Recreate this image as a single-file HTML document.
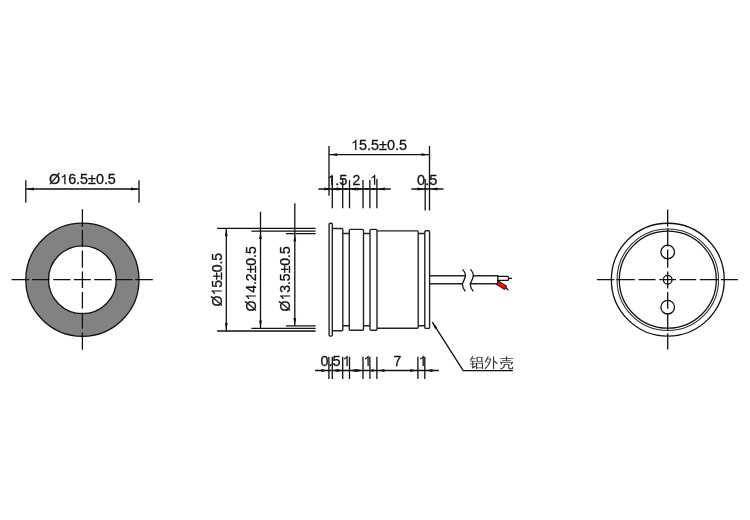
<!DOCTYPE html>
<html>
<head>
<meta charset="utf-8">
<title>Drawing</title>
<style>
html,body{margin:0;padding:0;background:#fff;}
body{width:750px;height:520px;overflow:hidden;font-family:"Liberation Sans",sans-serif;}
svg{display:block;opacity:0.999;will-change:transform;}
text{font-family:"Liberation Sans",sans-serif;font-size:14px;fill:#111;stroke:#111;stroke-width:0.3;}
.l{stroke:#111;stroke-width:1.3;fill:none;}
.t2{stroke:#2a2a2a;stroke-width:1.05;fill:none;}
.b{stroke:#222;stroke-width:1.4;fill:none;stroke-linejoin:round;stroke-linecap:round;}
.a{fill:#111;stroke:none;}
.cv{stroke:#2a2a2a;stroke-width:1.15;fill:none;stroke-linecap:round;stroke-linejoin:round;}
.ch{stroke:#3a3a3a;stroke-width:0.85;fill:none;stroke-linecap:round;stroke-linejoin:round;}
</style>
</head>
<body>
<svg width="750" height="520" viewBox="0 0 750 520">
<defs>
  <g id="one"><path transform="scale(0.006836,-0.006836)" fill="#111" stroke="#111" stroke-width="8" d="M763 0H583V1147Q518 1085 412.5 1023T223 930V1104Q374 1175 487 1276T647 1472H763Z"/></g>
</defs>
<rect width="750" height="520" fill="#fff"/>

<!-- ================= LEFT VIEW (ring) ================= -->
<g id="left">
  <path d="M82.4,223.1 a56.6,56.6 0 1 0 0.01,0 Z M82.4,245.79999999999998 a33.9,33.9 0 1 1 -0.01,0 Z" fill="#828282" fill-rule="evenodd" stroke="none"/>
  <circle cx="82.4" cy="279.7" r="56.6" class="l"/>
  <circle cx="82.4" cy="279.7" r="33.9" class="l"/>
  <path class="l" d="M82.4,209.3V226.7 M82.4,229.8V247 M82.4,250.4V267.7 M82.4,271.5V288 M82.4,292V308.5 M82.4,312.5V328.8 M82.4,332.6V349.7"/>
  <path class="l" d="M11.6,279.7H29.3 M32,279.7H49.6 M53.3,279.7H70.5 M73.7,279.7H90.8 M94.2,279.7H111.5 M115,279.7H132.6 M135.1,279.7H152.8"/>
  <path class="l" d="M25.8,180.2V202.8 M139,180.2V202.8 M25.8,189H139"/>
  <path class="a" d="M26.6,189l7.2,-1.4v2.8z M138.2,189l-7.2,-1.4v2.8z"/>
  <g transform="translate(49.0,184.3) scale(1.025,1)"><text x="0.00" y="0">Ø</text><use href="#one" x="10.89" y="0"/><text x="18.68" y="0">6.5±0.5</text></g>
</g>

<!-- ================= MIDDLE VIEW (side) ================= -->
<g id="mid">
  <path class="b" d="
    M329.1,224.2 Q329.1,223.2 330.1,223.2 H331.3 Q332.3,223.2 332.3,224.2 V335.1 Q332.3,336.1 331.3,336.1 H330.1 Q329.1,336.1 329.1,335.1 Z
    M332.3,228.5 H341.8 Q342.8,228.5 342.8,229.5 V329.8 Q342.8,330.8 341.8,330.8 H332.3
    M342.8,233.5 H349.3 M342.8,325.8 H349.3
    M349.3,230.4 Q349.3,229.4 350.3,229.4 H362.5 Q363.5,229.4 363.5,230.4 V329.3 Q363.5,330.3 362.5,330.3 H350.3 Q349.3,330.3 349.3,329.3 Z
    M363.5,233.5 H370 M363.5,325.8 H370
    M370,230.4 Q370,229.4 371,229.4 H376 Q377,229.4 377,230.4 V329.3 Q377,330.3 376,330.3 H371 Q370,330.3 370,329.3 Z
    M377,230.9 H417.2 Q418.2,230.9 418.2,231.9 V327.2 Q418.2,328.2 417.2,328.2 H377
    M418.2,233.5 H424.8 M418.2,325.8 H424.8
    M424.8,231.7 Q424.8,230.7 425.8,230.7 H428.6 Q429.6,230.7 429.6,231.7 V327.4 Q429.6,328.4 428.6,328.4 H425.8 Q424.8,328.4 424.8,327.4 Z
  "/>
  <!-- cable -->
  <path class="b" d="M429.6,275.8 H465.2 M429.6,283.8 H462.6 M473.4,275.8 H497.8 M470.8,283.8 H497.8 M497.8,275.8 V283.8"/>
  <path class="l" d="M462.5,269.4 Q466.2,273.5 465.3,276.8 Q463.8,281 462.3,284 Q462.4,288.2 465.4,291.3"/>
  <path class="l" d="M470.4,269.4 Q474.1,273.5 473.2,276.8 Q471.7,281 470.2,284 Q470.3,288.2 473.3,291.3"/>
  <path class="l" d="M497.8,276.3 H507.5 Q508.5,276.3 508.5,277.3 V279.4 Q508.5,280.4 507.5,280.4 H497.8 M508.5,278.3 H512"/>
  <path d="M498.6,281.1 L506.8,286.2 L504.5,289.6 L496.6,284.4 Z" fill="#f00" stroke="#111" stroke-width="1"/>
  <path class="l" d="M505.8,287.7 L508.5,290.4"/>

  <!-- top dimension 15.5 -->
  <path class="l" d="M329,145.9V195.7 M429.5,145.9V210.6 M329,154.6H429.5"/>
  <path class="a" d="M329.8,154.6l7.2,-1.4v2.8z M428.7,154.6l-7.2,-1.4v2.8z"/>
  <g transform="translate(351.0,149.9) scale(1.03,1)"><use href="#one" x="0.00" y="0"/><text x="7.79" y="0">5.5±0.5</text></g>

  <!-- second row of dims on top -->
  <path class="l" d="M318.3,189H390.8 M411.4,189H443.5"/>
  <path class="l" d="M332.3,176V208.3 M342.7,178.5V208.3 M349.5,180V208.3 M363,180V208.3 M369.9,180V208.3 M376.9,179V208.3 M425.2,179V210.6"/>
  <path class="a" d="M331.6,189l-7.2,-1.4v2.8z M342.7,189l-5.2,-1.4v2.8z M332.3,189l5.2,-1.4v2.8z M349.5,189l6.5,-1.4v2.8z M363,189l-6.5,-1.4v2.8z M342.7,189l3.4,-1.1v2.2z M349.5,189l-3.4,-1.1v2.2z M363,189l3.4,-1.1v2.2z M369.9,189l-3.4,-1.1v2.2z M369.9,189l3.5,-1.1v2.2z M376.9,189l-3.5,-1.1v2.2z M377.6,189l7.2,-1.4v2.8z M424.5,189l-7.2,-1.4v2.8z M430.2,189l7.2,-1.4v2.8z"/>
  <g transform="translate(327.1,184.8) scale(1.04,1)"><use href="#one" x="0.00" y="0"/><text x="7.79" y="0">.5</text></g>
  <g transform="translate(352.5,184.8)"><text x="0.00" y="0">2</text></g>
  <g transform="translate(370,184.8)"><use href="#one" x="0.00" y="0"/></g>
  <g transform="translate(417.1,184.8) scale(1.04,1)"><text x="0.00" y="0">0.5</text></g>

  <!-- left vertical dims -->
  <path class="l" d="M217.1,228.3H315.6 M251.4,231.2H315.6 M285.9,233.6H315.6 M217.1,331H315.6 M251.4,328.4H315.6 M285.9,325.9H315.6"/>
  <path class="l" d="M226.3,228.3V331 M260.5,211.8V328.4 M294.8,203.3V325.9"/>
  <path class="a" d="M226.3,229l-1.4,7.2h2.8z M226.3,330.3l-1.4,-7.2h2.8z M260.5,231.9l-1.4,7.2h2.8z M260.5,327.7l-1.4,-7.2h2.8z M294.8,234.3l-1.4,7.2h2.8z M294.8,325.2l-1.4,-7.2h2.8z"/>
  <g transform="translate(221.6,306.5) rotate(-90)"><text x="0.00" y="0">Ø</text><use href="#one" x="10.89" y="0"/><text x="18.68" y="0">5±0.5</text></g>
  <g transform="translate(255.8,311.5) rotate(-90)"><text x="0.00" y="0">Ø</text><use href="#one" x="10.89" y="0"/><text x="18.68" y="0">4.2±0.5</text></g>
  <g transform="translate(290.1,311.5) rotate(-90)"><text x="0.00" y="0">Ø</text><use href="#one" x="10.89" y="0"/><text x="18.68" y="0">3.5±0.5</text></g>

  <!-- bottom dims -->
  <path class="l" d="M315,370.5H438.8"/>
  <path class="l" d="M328.9,356.7V378.9 M332.3,356.7V378.9 M342.7,356.7V378.9 M349.5,356.7V378.9 M363,356.7V378.9 M369.9,356.7V378.9 M376.9,356.7V378.9 M417.9,356.7V378.9 M424.8,356.7V378.9"/>
  <path class="a" d="M328.2,370.5l-7,-1.4v2.8z M332.3,370.5l5.2,-1.4v2.8z M342.7,370.5l-5.2,-1.4v2.8z M349.5,370.5l6.7,-1.4v2.8z M363,370.5l-6.7,-1.4v2.8z M376.2,370.5l-4.5,-1.4v2.8z M377.6,370.5l7,-1.4v2.8z M417.2,370.5l-7,-1.4v2.8z M425.5,370.5l7,-1.4v2.8z"/>
  <g transform="translate(320.6,365.9) scale(1.03,1)"><text x="0.00" y="0">0.5</text></g>
  <g transform="translate(342.5,365.9)"><use href="#one" x="0.00" y="0"/></g>
  <g transform="translate(363.5,365.9)"><use href="#one" x="0.00" y="0"/></g>
  <g transform="translate(393.4,365.9)"><text x="0.00" y="0">7</text></g>
  <g transform="translate(418.6,365.9)"><use href="#one" x="0.00" y="0"/></g>

  <!-- leader -->
  <path class="l" d="M432.3,322.1 L463.2,370.6 H512.8"/>
  <path class="a" d="M432.3,322.1 l2.7,6.8 l2.2,-1.4 z"/>
  <!-- CJK label drawn as strokes: 铝 外 壳 -->
  <g transform="translate(469.9,356.5) scale(0.95,0.9)">
    <path class="cv" d="M2.8,0.3 L0.6,4.2 M3,5.4 V12.8 L5.6,10.8 M7.6,1 V5.6 M12.6,1 V5.6 M7,7.6 V13.4 M13.2,7.6 V13.4"/>
    <path class="ch" d="M2.2,2.4 H5.6 M1.2,5.4 H5.2 M0.4,8.2 H5.8 M7.6,1 H12.6 M7.6,5.4 H12.6 M7,7.6 H13.2 M7,12.6 H13.2"/>
  </g>
  <g transform="translate(484.7,356.5) scale(0.95,0.9)">
    <path class="cv" d="M3.6,0.2 L0.6,6 M6.2,2.8 Q5.4,9 0.4,13.6 M9.4,0.2 V13.3 M9.6,5 L13,7.6"/>
    <path class="ch" d="M2.8,2.8 H6.2 M2.6,5.6 L4.6,7.8"/>
  </g>
  <g transform="translate(499.9,356.5) scale(0.95,0.9)">
    <path class="cv" d="M7,0.2 V4.6 M1,6 L1.6,8.4 M13.2,6.6 L12,8.6 M4.6,8.8 V10.5 Q4.4,12.6 0.8,13.8 M9.4,8.8 V12.4 Q9.4,13.5 10.6,13.5 H12.8 Q13.5,13.5 13.5,11.6"/>
    <path class="ch" d="M0.6,2.2 H13.4 M2.6,4.6 H11.4 M1,6.6 H13.2 M4.6,8.8 H9.4"/>
  </g>
</g>

<!-- ================= RIGHT VIEW ================= -->
<g id="right">
  <circle cx="667.8" cy="279.7" r="56.45" class="l"/>
  <circle cx="667.8" cy="279.7" r="50.75" class="t2"/>
  <circle cx="667.8" cy="279.7" r="48.5" class="l"/>
  <circle cx="667.7" cy="252" r="6.8" class="l"/>
  <circle cx="667.7" cy="307.2" r="6.8" class="l"/>
  <circle cx="667.7" cy="279.7" r="4.3" class="l"/>
  <path class="l" d="M667.7,209.5V226.4 M667.7,228.6V246.2 M667.7,249.5V267.7 M667.7,271.5V288.5 M667.7,292V308.8 M667.7,313.2V330.8 M667.7,333.2V349.4"/>
  <path class="l" d="M597,279.7H614.3 M616.6,279.7H634.8 M638.6,279.7H655.5 M659.3,279.7H676 M679.6,279.7H696.2 M699.9,279.7H718.4 M720.9,279.7H737.8"/>
</g>
</svg>
</body>
</html>
